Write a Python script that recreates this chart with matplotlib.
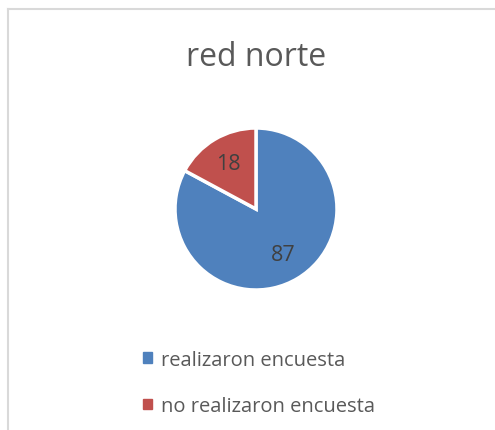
import matplotlib
matplotlib.use("Agg")
import matplotlib.pyplot as plt
from matplotlib.lines import Line2D
from matplotlib.patches import Patch

# Pie data
labels = ["realizaron encuesta", "no realizaron encuesta"]
values = [87, 18]
colors = ["#4F81BD", "#C0504D"]
title = "red norte"

plt.rcParams["font.family"] = ["Open Sans", "DejaVu Sans"]

W, H = 495, 431
fig = plt.figure(figsize=(W / 100, H / 100), dpi=100)

# chart border (only top and left visible in the crop)
fig.add_artist(Line2D([8 / W, 8 / W], [0, 1 - 10 / H], color="#D9D9D9", lw=1.5))
fig.add_artist(Line2D([8 / W, 1], [1 - 10 / H, 1 - 10 / H], color="#D9D9D9", lw=1.5))

# pie centered at (256, 210) px, radius 81 px
cx, cy, r = 256, 210, 81
ax = fig.add_axes([(cx - r) / W, (H - cy - r) / H, 2 * r / W, 2 * r / H])
wedges, texts, autotexts = ax.pie(
    values, colors=colors, startangle=90, counterclock=False,
    autopct=lambda p: "{:.0f}".format(p * sum(values) / 100),
    pctdistance=0.66, wedgeprops=dict(edgecolor="white", linewidth=2.5),
    textprops=dict(color="#404040", fontsize=15.5),
)
ax.set_xlim(-1, 1)
ax.set_ylim(-1, 1)
ax.set_aspect("equal")
ax.axis("off")

fig.text(256 / W, 1 - 57 / H, title, ha="center", va="center",
         fontsize=23, color="#595959")

handles = [Patch(facecolor=c, edgecolor=c) for c in colors]
fig.legend(handles, labels, loc="upper left", bbox_to_anchor=(143 / W, 1 - 351 / H),
           frameon=False, fontsize=14.5, labelcolor="#595959",
           borderpad=0, borderaxespad=0,
           handlelength=0.45, handleheight=0.45, handletextpad=0.45, labelspacing=1.3)

fig.savefig("out.png", dpi=100, facecolor="white")
